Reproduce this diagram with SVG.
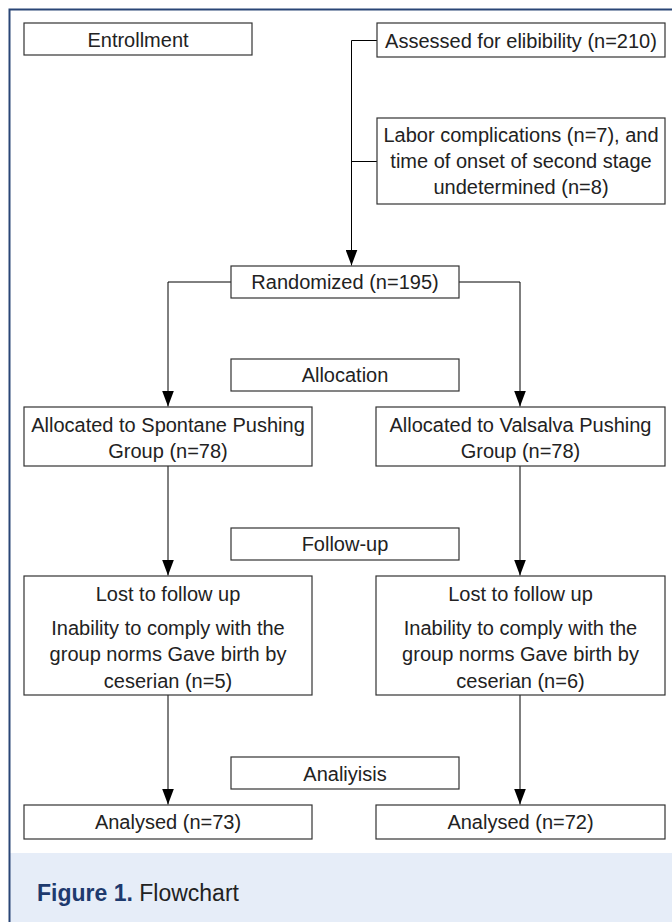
<svg xmlns="http://www.w3.org/2000/svg" width="672" height="922" viewBox="0 0 672 922">
<defs>
<style>
.box{fill:#fff;stroke:#333;stroke-width:1.2}
.t{font-family:"Liberation Sans",Arial,sans-serif;font-size:20px;fill:#222;text-anchor:middle}
.c{fill:none;stroke:#000;stroke-width:1}
.cap{font-family:"Liberation Sans",Arial,sans-serif;font-size:23px}
</style>
<marker id="ah" markerWidth="16" markerHeight="12" refX="16" refY="6" orient="auto" markerUnits="userSpaceOnUse" viewBox="0 0 16 12">
<path d="M0,0 L16,6 L0,12 Z" fill="#000"/>
</marker>
</defs>
<rect x="0" y="0" width="672" height="922" fill="#fff"/>
<rect x="10" y="853" width="662" height="69" fill="#e6edf8"/>
<path d="M9.5,922 V9.5 H672" fill="none" stroke="#2a4677" stroke-width="2"/>

<g id="connectors">
<path class="c" d="M377,40.5 H351.5 V265.5" marker-end="url(#ah)"/>
<path class="c" d="M351.5,161.5 H377"/>
<path class="c" d="M231,282 H168 V406.5" marker-end="url(#ah)"/>
<path class="c" d="M459,282 H520 V406.5" marker-end="url(#ah)"/>
<path class="c" d="M168,466 V575.5" marker-end="url(#ah)"/>
<path class="c" d="M520,466 V575.5" marker-end="url(#ah)"/>
<path class="c" d="M168,695 V804.5" marker-end="url(#ah)"/>
<path class="c" d="M520,695 V804.5" marker-end="url(#ah)"/>
</g>

<g id="entrollment"><rect class="box" x="24" y="23" width="228" height="32"/><text class="t" x="138" y="47">Entrollment</text></g>
<g id="assessed"><rect class="box" x="377" y="23" width="288" height="34"/><text class="t" x="521" y="48">Assessed for elibibility (n=210)</text></g>
<g id="excluded"><rect class="box" x="377" y="118" width="288" height="86"/>
<text class="t" x="521" y="142">Labor complications (n=7), and</text>
<text class="t" x="521" y="168">time of onset of second stage</text>
<text class="t" x="521" y="194">undetermined (n=8)</text></g>
<g id="randomized"><rect class="box" x="231" y="266" width="228" height="32"/><text class="t" x="345" y="289">Randomized (n=195)</text></g>
<g id="allocation"><rect class="box" x="231" y="359" width="228" height="32"/><text class="t" x="345" y="382">Allocation</text></g>
<g id="alloc-spontane"><rect class="box" x="24" y="407" width="288" height="59"/>
<text class="t" x="168" y="432">Allocated to Spontane Pushing</text>
<text class="t" x="168" y="458">Group (n=78)</text></g>
<g id="alloc-valsalva"><rect class="box" x="376" y="407" width="289" height="59"/>
<text class="t" x="520.5" y="432">Allocated to Valsalva Pushing</text>
<text class="t" x="520.5" y="458">Group (n=78)</text></g>
<g id="followup"><rect class="box" x="231" y="528" width="228" height="32"/><text class="t" x="345" y="551">Follow-up</text></g>
<g id="lost-spontane"><rect class="box" x="24" y="576" width="288" height="119"/>
<text class="t" x="168" y="601">Lost to follow up</text>
<text class="t" x="168" y="635">Inability to comply with the</text>
<text class="t" x="168" y="661">group norms Gave birth by</text>
<text class="t" x="168" y="688">ceserian (n=5)</text></g>
<g id="lost-valsalva"><rect class="box" x="376" y="576" width="289" height="119"/>
<text class="t" x="520.5" y="601">Lost to follow up</text>
<text class="t" x="520.5" y="635">Inability to comply with the</text>
<text class="t" x="520.5" y="661">group norms Gave birth by</text>
<text class="t" x="520.5" y="688">ceserian (n=6)</text></g>
<g id="analysis"><rect class="box" x="231" y="757" width="228" height="32"/><text class="t" x="345" y="781">Analiyisis</text></g>
<g id="analysed-spontane"><rect class="box" x="24" y="805" width="288" height="34"/><text class="t" x="168" y="829">Analysed (n=73)</text></g>
<g id="analysed-valsalva"><rect class="box" x="376" y="805" width="289" height="34"/><text class="t" x="520.5" y="829">Analysed (n=72)</text></g>

<text class="cap" x="37" y="901"><tspan font-weight="bold" fill="#1e3a6e">Figure 1.</tspan><tspan fill="#222"> Flowchart</tspan></text>
</svg>
